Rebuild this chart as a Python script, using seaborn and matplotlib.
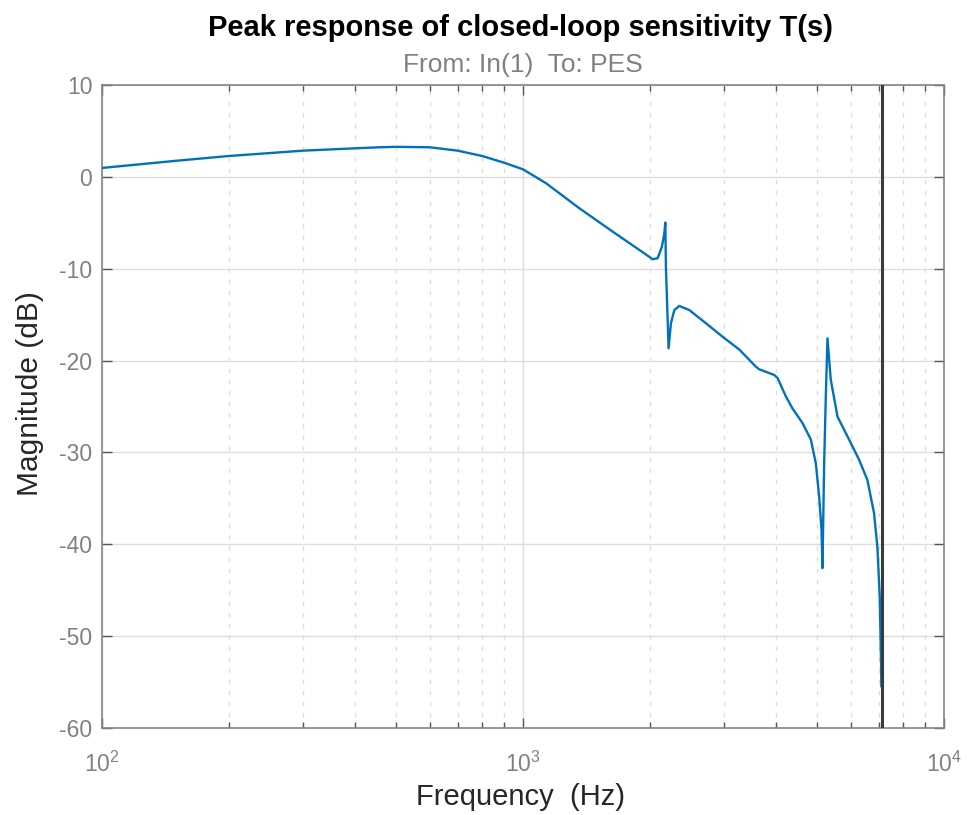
import matplotlib
matplotlib.use("Agg")
import matplotlib.pyplot as plt
import matplotlib.ticker as mticker
import seaborn as sns
import numpy as np
import pandas as pd

# ---- data ----
freq_hz = [100, 150, 200, 300, 400, 456, 500, 600, 700, 800, 900, 1000, 1135,
           1361, 1633, 1890, 2033, 2088, 2138, 2166, 2178, 2185, 2217, 2246,
           2288, 2351, 2483, 2720, 2978, 3264, 3573, 3640, 3952, 4024, 4211,
           4365, 4612, 4828, 4961, 5052, 5117, 5144, 5192, 5239, 5287, 5384,
           5585, 5950, 6285, 6577, 6820, 6947, 7036, 7088, 7100]
mag_db = [0.97, 1.75, 2.27, 2.85, 3.11, 3.22, 3.27, 3.22, 2.85, 2.27, 1.55, 0.82, -0.7,
          -3.42, -5.96, -7.96, -8.97, -8.86, -7.6, -6.14, -4.98, -9.8, -18.66, -15.94,
          -14.5, -14.05, -14.5, -15.94, -17.4, -18.8, -20.66, -20.95, -21.57, -21.9, -23.9,
          -25.2, -26.8, -28.6, -31.2, -34.8, -38.4, -42.6, -31.2, -23.9, -17.57, -22.1,
          -26.1, -28.6, -30.8, -33.0, -36.6, -40.3, -45.7, -53.0, -55.5]
nyquist_hz = 7112
y_ticks = [10, 0, -10, -20, -30, -40, -50, -60]

title_text = "Peak response of closed-loop sensitivity T(s)"
subtitle_text = "From: In(1)  To: PES"
x_label = "Frequency  (Hz)"
y_label = "Magnitude (dB)"

sns.set_theme(style="white")
plt.rcParams["font.family"] = ["Liberation Sans", "DejaVu Sans"]
plt.rcParams["mathtext.fontset"] = "custom"
plt.rcParams["mathtext.rm"] = "Liberation Sans"
plt.rcParams["mathtext.it"] = "Liberation Sans"
plt.rcParams["axes.unicode_minus"] = False

fig = plt.figure(figsize=(9.67, 8.15), dpi=100)
ax = fig.add_axes([102/967, 1-728/815, (944-102)/967, (728-85)/815])

df = pd.DataFrame({"f": freq_hz, "m": mag_db})
sns.lineplot(data=df, x="f", y="m", ax=ax, color="#0072BD", linewidth=1.7,
             estimator=None, sort=False, zorder=3)
ax.axvline(nyquist_hz, color="#3a3a3a", linewidth=2.2, zorder=4)

ax.set_xscale("log")
ax.set_xlim(100, 10000)
ax.set_ylim(-60, 10)
ax.set_yticks(y_ticks)
ax.xaxis.set_major_locator(mticker.LogLocator(base=10, numticks=10))
ax.xaxis.set_minor_locator(mticker.LogLocator(base=10, subs=np.arange(2, 10), numticks=20))
ax.xaxis.set_minor_formatter(mticker.NullFormatter())

frame_col = "#858585"
for s in ax.spines.values():
    s.set_color(frame_col)
    s.set_linewidth(1.2)

ax.grid(True, which="major", axis="both", color="#dedede", linewidth=1.0, linestyle="-")
ax.grid(True, which="minor", axis="x", color="#dcdcdc", linewidth=1.0, linestyle=(0, (3, 5)))
ax.set_axisbelow(True)

ax.tick_params(axis="both", which="major", direction="in", length=7, width=1.0,
               color="#555555", labelcolor="#808080", labelsize=16.5,
               top=True, right=True, bottom=True, left=True)
ax.tick_params(axis="x", which="minor", direction="in", length=4.5, width=1.0,
               color="#555555", top=True, bottom=True)
ax.tick_params(axis="x", which="major", pad=17)
ax.tick_params(axis="y", which="major", pad=7)

ax.set_xlabel(x_label, fontsize=21, color="#262626")
ax.xaxis.set_label_coords(0.497, -0.085)
ax.set_ylabel(y_label, fontsize=21.5, color="#262626")
ax.yaxis.set_label_coords(-0.069, 0.52)

ax.text(0.5, 1.031, subtitle_text, transform=ax.transAxes, ha="center", va="center",
        fontsize=19, color="#808080")
ax.text(0.497, 1.088, title_text, transform=ax.transAxes, ha="center", va="center",
        fontsize=21, fontweight="bold", color="#000000")

fig.savefig("out.png", dpi=100)
